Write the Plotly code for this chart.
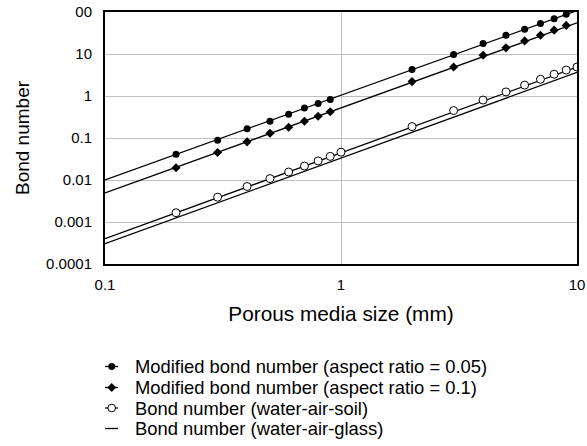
import plotly.graph_objects as go

# ---------------- data ----------------
x_mod = [0.2, 0.3, 0.4, 0.5, 0.6, 0.7, 0.8, 0.9, 2, 3, 4, 5, 6, 7, 8, 9]
mod_005 = [0.041, 0.089, 0.166, 0.25, 0.37, 0.52, 0.66, 0.83,
           4.25, 9.7, 17.8, 28, 38.8, 53.5, 69, 88]
mod_01 = [0.0195, 0.045, 0.081, 0.13, 0.18, 0.25, 0.33, 0.42,
          2.2, 4.9, 9.3, 14, 20.5, 28, 37, 48]

x_soil = [0.2, 0.3, 0.4, 0.5, 0.6, 0.7, 0.8, 0.9, 1, 2, 3, 4, 5, 6, 7, 8, 9, 10]
bond_soil = [0.00166, 0.0039, 0.0070, 0.0108, 0.0155, 0.0215, 0.0285, 0.0365,
             0.046, 0.187, 0.45, 0.80, 1.25, 1.82, 2.5, 3.3, 4.15, 4.9]

# trend lines (power fits) across the full size range
x_trend = [0.1, 10]
trend_005 = [0.0101, 108]
trend_01 = [0.00494, 55]
trend_soil = [0.0004, 4.9]
trend_glass = [0.000305, 3.65]

x_ticks = [0.1, 1, 10]
x_ticklabels = ["0.1", "1", "10"]
y_ticks = [0.0001, 0.001, 0.01, 0.1, 1, 10, 100]
y_ticklabels = ["0.0001", "0.001", "0.01", "0.1", "1", "10", "00"]

legend_names = [
    "Modified bond number (aspect ratio = 0.05)",
    "Modified bond number (aspect ratio = 0.1)",
    "Bond number (water-air-soil)",
    "Bond number (water-air-glass)",
]

FONT = "Arial, 'Liberation Sans', sans-serif"
NARROW = "'Liberation Sans Narrow', 'Arial Narrow', Arial, 'Liberation Sans', sans-serif"
LINE_W = 1.3

fig = go.Figure()

# trend lines
for xs, ys, nm in [(x_trend, trend_005, legend_names[0]),
                   (x_trend, trend_01, legend_names[1]),
                   (x_trend, trend_soil, legend_names[2]),
                   (x_trend, trend_glass, legend_names[3])]:
    fig.add_trace(go.Scatter(x=xs, y=ys, mode="lines", name=nm, showlegend=False,
                             line=dict(color="black", width=LINE_W)))

# markers
fig.add_trace(go.Scatter(x=x_mod, y=mod_005, mode="markers", name=legend_names[0],
                         showlegend=False,
                         marker=dict(symbol="circle", size=7, color="black")))
fig.add_trace(go.Scatter(x=x_mod, y=mod_01, mode="markers", name=legend_names[1],
                         showlegend=False,
                         marker=dict(symbol="diamond", size=7, color="black")))
fig.add_trace(go.Scatter(x=x_soil, y=bond_soil, mode="markers", name=legend_names[2],
                         showlegend=False,
                         marker=dict(symbol="circle", size=8, color="white",
                                     line=dict(color="black", width=1))))

# ---------------- layout ----------------
W, H = 587, 446
ML, MR, MT, MB = 105, 10, 12, 182
PW, PH = W - ML - MR, H - MT - MB


def px_to_paper(px, py):
    return (px - ML) / PW, (H - MB - py) / PH


fig.update_layout(
    width=W, height=H,
    margin=dict(l=ML, r=MR, t=MT, b=MB, autoexpand=False),
    paper_bgcolor="white", plot_bgcolor="white",
    font=dict(family=FONT, color="black"),
    showlegend=False,
    xaxis=dict(type="log", range=[-1, 1], tickvals=x_ticks, ticktext=x_ticklabels,
               showgrid=True, gridcolor="#bfbfbf", gridwidth=1,
               showline=True, linecolor="black", linewidth=2, mirror=True,
               ticks="", ticklabelstandoff=6, tickfont=dict(size=15),
               zeroline=False,
               title=dict(text="Porous media size (mm)", font=dict(size=20.8),
                          standoff=14)),
    yaxis=dict(type="log", range=[-4, 2], tickvals=y_ticks, ticktext=y_ticklabels,
               showgrid=True, gridcolor="#bfbfbf", gridwidth=1,
               showline=True, linecolor="black", linewidth=2, mirror=True,
               ticks="", ticklabelstandoff=8, tickfont=dict(size=15),
               zeroline=False,
               title=dict(text="Bond number", font=dict(size=19, family=NARROW),
                          standoff=11)),
)

# ---------------- manual legend below the chart ----------------
row_y = [366.5, 387.5, 408, 428.5]
sym_x0, sym_x1, sym_xc, text_x = 105, 118, 111.7, 133
shapes = []
annotations = []
for i, (nm, py) in enumerate(zip(legend_names, row_y)):
    x0, y = px_to_paper(sym_x0, py)
    x1, _ = px_to_paper(sym_x1, py)
    xc, _ = px_to_paper(sym_xc, py)
    tx, _ = px_to_paper(text_x, py)
    shapes.append(dict(type="line", xref="paper", yref="paper", x0=x0, x1=x1,
                       y0=y, y1=y, line=dict(color="black", width=LINE_W)))
    if i == 0:
        shapes.append(dict(type="circle", xref="paper", yref="paper",
                           xsizemode="pixel", ysizemode="pixel", xanchor=xc, yanchor=y,
                           x0=-3.3, x1=3.3, y0=-3.3, y1=3.3,
                           fillcolor="black", line=dict(color="black", width=0.5)))
    elif i == 1:
        shapes.append(dict(type="path", xref="paper", yref="paper",
                           xsizemode="pixel", ysizemode="pixel", xanchor=xc, yanchor=y,
                           path="M 0,4.2 L 4.2,0 L 0,-4.2 L -4.2,0 Z",
                           fillcolor="black", line=dict(color="black", width=0.5)))
    elif i == 2:
        shapes.append(dict(type="circle", xref="paper", yref="paper",
                           xsizemode="pixel", ysizemode="pixel", xanchor=xc, yanchor=y,
                           x0=-3.8, x1=3.8, y0=-3.8, y1=3.8,
                           fillcolor="white", line=dict(color="black", width=1)))
    annotations.append(dict(text=nm, xref="paper", yref="paper", x=tx, y=y,
                            xanchor="left", yanchor="middle", showarrow=False,
                            font=dict(size=18.4, family=FONT, color="black")))

fig.update_layout(shapes=shapes, annotations=annotations)

fig.write_html("out.html",
               config={"displayModeBar": False},
               post_script="document.body.style.margin='0';"
                           "document.body.style.padding='0';")
